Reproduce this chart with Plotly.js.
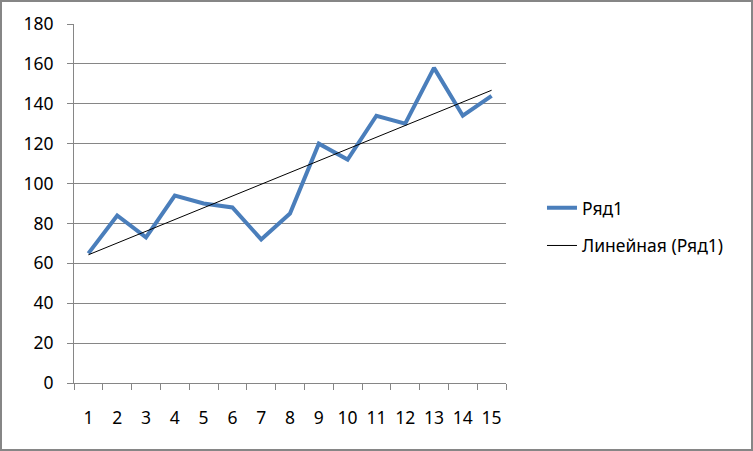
<!DOCTYPE html>
<html>
<head>
<meta charset="utf-8">
<script src="https://cdn.plot.ly/plotly-3.0.1.min.js"></script>
<style>
  html, body { margin: 0; padding: 0; background: #fff; }
  #wrap { position: relative; width: 753px; height: 451px; }
  #chart { width: 753px; height: 451px; }
  #frame { position: absolute; left: 0; top: 0; width: 753px; height: 451px;
           box-sizing: border-box; border: 2px solid #868686; pointer-events: none; }
</style>
</head>
<body>
<div id="wrap">
  <div id="chart"></div>
  <div id="frame"></div>
</div>
<script>
const categories = [1, 2, 3, 4, 5, 6, 7, 8, 9, 10, 11, 12, 13, 14, 15];
const seriesValues = [65, 84, 73, 94, 90, 88, 72, 85, 120, 112, 134, 130, 158, 134, 144];
const seriesName = "Ряд1";
const trendName = "Линейная (Ряд1)";
const yTickValues = [0, 20, 40, 60, 80, 100, 120, 140, 160, 180];

// Linear least-squares trendline from the series
const n = categories.length;
const mx = categories.reduce((a, b) => a + b, 0) / n;
const my = seriesValues.reduce((a, b) => a + b, 0) / n;
let sxy = 0, sxx = 0;
for (let i = 0; i < n; i++) {
  sxy += (categories[i] - mx) * (seriesValues[i] - my);
  sxx += (categories[i] - mx) * (categories[i] - mx);
}
const slope = sxy / sxx;
const intercept = my - slope * mx;
const trendValues = categories.map(x => intercept + slope * x);

const catLabels = categories.map(String);
const FONT = "Noto Sans, Liberation Sans, sans-serif";

const traces = [
  {
    x: catLabels, y: seriesValues, type: "scatter", mode: "lines",
    name: seriesName, legendgroup: "a",
    line: { color: "#4A7EBB", width: 4, shape: "linear" }
  },
  {
    x: catLabels, y: trendValues, type: "scatter", mode: "lines",
    name: trendName, legendgroup: "b",
    line: { color: "#000000", width: 1 }
  }
];

const layout = {
  width: 753, height: 451,
  margin: { l: 74, r: 247, t: 24, b: 68, pad: 0 },
  paper_bgcolor: "#ffffff", plot_bgcolor: "#ffffff",
  font: { family: FONT, size: 17.5, color: "#000000" },
  showlegend: true,
  legend: {
    x: 1.0833, xanchor: "left", y: 0.538, yanchor: "top",
    traceorder: "grouped", tracegroupgap: 12,
    font: { family: FONT, size: 17.5, color: "#000000" },
    bgcolor: "rgba(0,0,0,0)", borderwidth: 0
  },
  xaxis: {
    type: "category",
    range: [-0.5, categories.length - 0.5],
    tickson: "boundaries",
    tickangle: 0,
    ticks: "outside", ticklen: 6, tickwidth: 1, tickcolor: "#868686",
    showline: true, linecolor: "#868686", linewidth: 1,
    showgrid: false, zeroline: false,
    ticklabelstandoff: 19,
    tickfont: { family: FONT, size: 17.5, color: "#000000" },
    fixedrange: true
  },
  yaxis: {
    range: [0, 180],
    tickvals: yTickValues,
    ticks: "outside", ticklen: 6, tickwidth: 1, tickcolor: "#868686",
    showline: true, linecolor: "#868686", linewidth: 1,
    showgrid: true, gridcolor: "#868686", gridwidth: 1,
    zeroline: false,
    ticklabelstandoff: 10,
    tickfont: { family: FONT, size: 17.5, color: "#000000" },
    fixedrange: true
  }
};

Plotly.newPlot("chart", traces, layout, { displayModeBar: false, staticPlot: true });
</script>
</body>
</html>
